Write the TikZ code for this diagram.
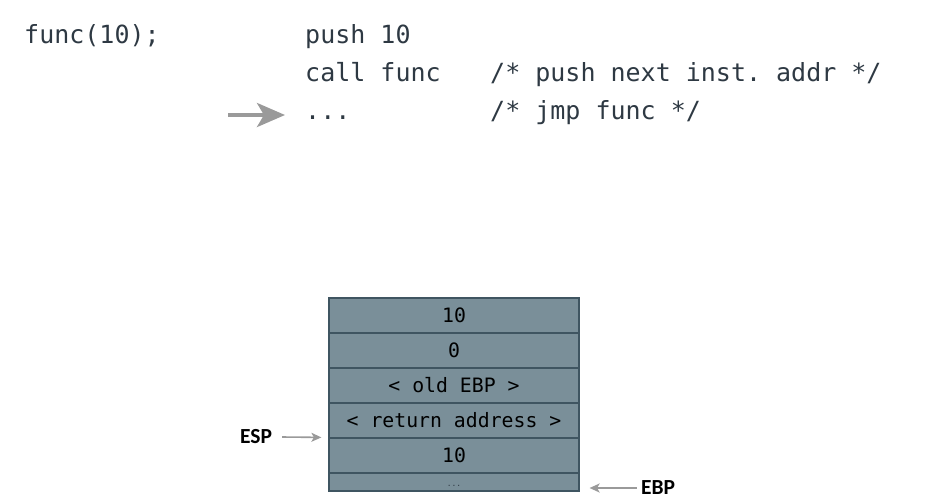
\documentclass[tikz,border=0pt]{standalone}
\usepackage{fontspec}
\setmonofont{DejaVu Sans Mono}
\newfontfamily\lblfont{Carlito}
\usetikzlibrary{arrows.meta}
\definecolor{codeink}{HTML}{2E3943}
\definecolor{cellfill}{HTML}{7A8F99}
\definecolor{cellline}{HTML}{3F5561}
\definecolor{pointer}{HTML}{9A9A9A}
\begin{document}
\begin{tikzpicture}[x=1pt,y=-1pt,
  code/.style={anchor=base west,inner sep=0pt,text=codeink,
    font=\ttfamily\fontsize{25}{25}\selectfont},
  cell/.style={draw=cellline,line width=1.2pt,fill=cellfill,minimum width=250pt,
    minimum height=35pt,inner sep=0pt,text=black,
    font=\ttfamily\fontsize{19.8}{20}\selectfont},
  reg/.style={inner sep=0pt,font=\lblfont\bfseries\fontsize{21.5}{21.5}\selectfont},
  regarrow/.style={draw=pointer,line width=1.6pt,-{Stealth[length=10pt,width=9pt,inset=2.5pt]}}
]
\useasboundingbox (0,0) rectangle (929,499);

% source line and its assembly
\node[code] (src) at (24,43) {func(10);};
\node[code] (i1) at (305,43) {push 10};
\node[code] (i2) at (305,81) {call func};
\node[code] (i3) at (305,119) {...};
\node[code] (c2) at (490,81) {/* push next inst. addr */};
\node[code] (c3) at (490,119) {/* jmp func */};
\coordinate (pc) at (228,115);
\draw[pointer,line width=4pt,-{Stealth[length=28pt,width=24pt,inset=7pt]}]
  (pc) -- ([xshift=-20pt]i3.west |- pc);

% stack frame
\node[cell] (s1) at (454,315.5) {10};
\node[cell] (s2) at (454,350.5) {0};
\node[cell] (s3) at (454,385.5) {< old EBP >};
\node[cell] (s4) at (454,420.5) {< return address >};
\node[cell] (s5) at (454,455.5) {10};
\node[cell,minimum height=18pt] (s6) at (454,482) {};
\node[inner sep=0pt,font=\ttfamily\fontsize{8}{8}\selectfont,text=codeink] (dots) at (454,486) {...};

% register pointers
\node[reg] (esp) at (256,437) {ESP};
\node[reg] (ebp) at (658,488) {EBP};
\draw[regarrow] (esp.east) ++(10pt,0) coordinate (espt) -- ([xshift=-7pt]s5.north west);
\coordinate (ebpt) at ([xshift=-4pt]ebp.west);
\draw[regarrow] (ebpt) -- ([xshift=10pt]s6.south east |- ebpt);
\end{tikzpicture}
\end{document}
